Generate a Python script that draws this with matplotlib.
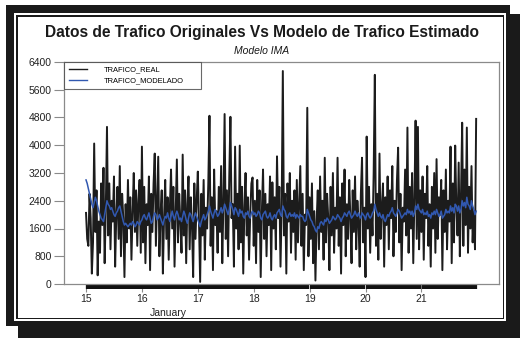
import numpy as np
import matplotlib
matplotlib.use("Agg")
from matplotlib import pyplot as plt
from matplotlib.patches import Rectangle
from matplotlib.ticker import FixedLocator

plt.rcParams['font.family'] = ['Liberation Sans', 'DejaVu Sans']

title = "Datos de Trafico Originales Vs Modelo de Trafico Estimado"
subtitle = "Modelo IMA"
day_labels = ["15", "16", "17", "18", "19", "20", "21"]
first_day = 15
per_day = 48  # half-hourly readings

# Jan 15 00:00 .. Jan 21 23:30
trafico_real = [
    # 15
    2050, 1300, 1100, 2600, 1900, 300, 1200, 4050, 1500, 2700, 250, 1800,
    900, 2900, 1700, 3350, 600, 2200, 4530, 1400, 2900, 1000, 2400, 1800,
    3100, 500, 2000, 2800, 1300, 3400, 800, 2600, 1900, 200, 2300, 1200,
    3000, 1600, 2500, 700, 2100, 3200, 1500, 2700, 1100, 2400, 3000, 900,
    # 16
    3960, 1200, 2800, 600, 2300, 1700, 3100, 400, 2600, 1500, 2900, 3760,
    1100, 2400, 3670, 800, 2000, 2700, 300, 1900, 3000, 1300, 2500, 700,
    2200, 3300, 1600, 2800, 500, 2100, 3590, 1200, 2600, 1800, 900, 3730,
    1400, 2700, 600, 2300, 3100, 1000, 2500, 1700, 200, 2900, 1300, 2400,
    # 17
    3240, 1800, 60, 2600, 1400, 3000, 700, 2200, 1600, 2900, 4850, 1100,
    2500, 400, 3300, 1700, 2100, 900, 2800, 1500, 3400, 600, 2400, 4900,
    1300, 2700, 800, 3100, 4820, 1900, 2300, 500, 3960, 1600, 2600, 1000,
    3990, 1200, 2800, 300, 2200, 3200, 1400, 2500, 700, 2000, 2900, 3070,
    # 18
    1100, 2400, 600, 3000, 1500, 2700, 200, 2100, 3300, 1300, 2600, 800,
    2300, 1700, 3100, 400, 2930, 1600, 2500, 1000, 3680, 1900, 2800, 500,
    2200, 6140, 1400, 2600, 300, 2900, 1800, 3200, 900, 2400, 1500, 2700,
    700, 3000, 1200, 2300, 3400, 1100, 2600, 400, 2000, 1700, 5080, 800,
    # 19
    2500, 1300, 2900, 600, 2100, 100, 1800, 2700, 1000, 3100, 1500, 2400,
    700, 3640, 1200, 2600, 1900, 400, 2800, 1400, 3200, 900, 2200, 1600,
    3640, 1100, 2500, 300, 2900, 1700, 3300, 800, 2300, 1300, 3000, 1900,
    600, 2700, 1500, 3100, 1000, 2400, 1800, 500, 2600, 3640, 1200, 2200,
    # 20
    200, 4250, 1600, 2800, 900, 2300, 1400, 3200, 6030, 1100, 2600, 700,
    3760, 1300, 2200, 2900, 500, 2500, 1700, 3100, 1000, 2700, 1900, 3400,
    800, 2400, 1500, 3000, 3930, 1200, 2600, 400, 2200, 1800, 3300, 1400,
    4510, 900, 2800, 1600, 3200, 600, 2500, 4710, 1300, 4530, 1000, 2700,
    # 21
    1500, 3100, 700, 2600, 1900, 3400, 1100, 2300, 500, 2800, 1600, 3200,
    900, 3600, 1300, 2500, 2000, 3000, 400, 2700, 1500, 3300, 1000, 2400,
    1800, 3960, 600, 2900, 1200, 3990, 2200, 1400, 3500, 800, 2600, 4650,
    1100, 3300, 1700, 4510, 900, 2800, 1600, 3400, 1200, 2100, 1000, 4760,
]
trafico_modelado = [
    # 15
    3000, 2900, 2750, 2600, 2450, 2300, 2200, 2350, 2500, 2400, 2250, 2100,
    2000, 1900, 1850, 1800, 2000, 2200, 2400, 2300, 2250, 2150, 2200, 2100,
    2000, 1950, 2050, 2100, 2200, 2250, 2100, 1950, 1800, 1700, 1750, 1700,
    1650, 1700, 1750, 1700, 1800, 1750, 1650, 1700, 1800, 1750, 1700, 1800,
    # 16
    1850, 1950, 2000, 1900, 1850, 1950, 2050, 1900, 1750, 1800, 1950, 2050,
    2000, 1850, 1900, 2000, 1900, 1800, 1700, 1850, 1950, 1900, 2050, 1900,
    1800, 1950, 2100, 1950, 1850, 2000, 2100, 2000, 1850, 1900, 1800, 1950,
    2100, 2000, 1850, 1750, 1900, 2050, 2000, 1900, 1800, 1950, 2050, 1950,
    # 17
    1850, 1750, 1650, 1800, 1900, 2000, 1850, 1900, 2000, 2100, 2250, 2100,
    2000, 1900, 2050, 2150, 2050, 1950, 2000, 2100, 2200, 2050, 2150, 2300,
    2200, 2100, 2000, 2150, 2350, 2250, 2150, 2000, 2200, 2150, 2050, 1950,
    2150, 2050, 2100, 1950, 1900, 2050, 2000, 2100, 1950, 1900, 2050, 2100,
    # 18
    2000, 2050, 1950, 2000, 2100, 2050, 1900, 1850, 2000, 2050, 2100, 1950,
    1900, 1950, 2050, 1900, 1850, 1950, 2000, 1900, 2050, 2100, 2150, 2000,
    1950, 2250, 2150, 2100, 1950, 1900, 2000, 2050, 1950, 2000, 1950, 2050,
    1900, 2000, 1950, 1900, 2000, 1950, 1950, 1850, 1800, 1850, 2150, 2050,
    # 19
    1950, 1850, 1800, 1700, 1650, 1550, 1500, 1650, 1600, 1750, 1800, 1750,
    1700, 1850, 1800, 1900, 1850, 1750, 1800, 1850, 1950, 1900, 1850, 1900,
    2000, 1950, 1900, 1800, 1900, 1950, 2050, 2000, 1950, 2050, 2100, 2000,
    1900, 1950, 2000, 2100, 2000, 1950, 2050, 1950, 1900, 2050, 2000, 1950,
    # 20
    1850, 2000, 2050, 1950, 1900, 1950, 2050, 2100, 2300, 2150, 2050, 1950,
    2050, 1950, 1900, 2000, 1850, 1800, 1900, 2000, 1950, 2050, 2100, 2200,
    2050, 2000, 1950, 2050, 2150, 2100, 2000, 1900, 1950, 2000, 2050, 2000,
    2150, 2050, 2100, 2000, 2100, 1950, 2050, 2250, 2150, 2300, 2150, 2100,
    # 21
    2050, 2150, 2000, 2050, 2000, 2100, 1950, 2000, 1900, 2050, 2000, 2100,
    2000, 2150, 2050, 1950, 2000, 2100, 1900, 1950, 2000, 2150, 2050, 2100,
    2050, 2250, 2100, 2200, 2050, 2300, 2250, 2100, 2250, 2050, 2150, 2400,
    2250, 2350, 2200, 2500, 2300, 2250, 2150, 2400, 2250, 2150, 2000, 2100,
]

W, H = 520, 338
fig = plt.figure(figsize=(W / 100, H / 100), dpi=100)


def px_rect(x0, y0, x1, y1, color):
    # rectangle in pixel coords (y from top)
    fig.patches.append(Rectangle((x0 / W, 1 - y1 / H), (x1 - x0) / W, (y1 - y0) / H,
                                 transform=fig.transFigure, facecolor=color,
                                 edgecolor="none", zorder=-10))


# framed border with drop shadow
px_rect(18, 14, 520, 338, "#1a1a1a")
px_rect(6, 5, 510, 326, "#1a1a1a")
px_rect(14, 13, 506, 321, "white")
px_rect(16, 15, 504, 319, "#1a1a1a")
px_rect(17.5, 16.5, 503, 317.5, "white")

ax = fig.add_axes([64 / W, 1 - 284 / H, (499 - 64) / W, (284 - 62) / H])
x = first_day + np.arange(len(trafico_real)) / per_day
ax.plot(x, trafico_real, color="#1c1c1c", lw=1.4, label="TRAFICO_REAL")
ax.plot(x, trafico_modelado, color="#3158b0", lw=1.1, label="TRAFICO_MODELADO")

ax.set_ylim(0, 6400)
ax.set_yticks(np.arange(0, 6401, 800))
ax.set_xlim(14.606, 22.388)
ax.set_xticks(np.arange(first_day, first_day + len(day_labels)))
ax.set_xticklabels(day_labels)
ax.xaxis.set_minor_locator(FixedLocator(x))

for s in ax.spines.values():
    s.set_color("#8a8a8a")
    s.set_linewidth(0.9)
ax.tick_params(axis="y", length=7, width=0.8, color="#8a8a8a", pad=2,
               labelsize=7.5, labelcolor="#222222")
ax.tick_params(axis="x", which="major", length=6, width=0.8, color="#8a8a8a",
               pad=1, labelsize=7.5, labelcolor="#222222")
ax.tick_params(axis="x", which="minor", length=3.8, width=1.6, color="#111111")

ax.annotate("January", xy=(16.48, 0), xycoords=("data", "axes fraction"),
            xytext=(0, -17), textcoords="offset points", ha="center", va="top",
            fontsize=7.5, color="#222222")

leg = ax.legend(loc="upper left", bbox_to_anchor=(0, 1, 137 / 435, 0),
                mode="expand", borderaxespad=0,
                fontsize=5.4, frameon=True, fancybox=False, handlelength=2.4,
                handletextpad=2.3, borderpad=0.6, labelspacing=0.5)
leg.get_frame().set_edgecolor("#444444")
leg.get_frame().set_linewidth(0.8)
leg.get_lines()[0].set_linewidth(1.0)
leg.get_lines()[1].set_linewidth(1.0)

fig.text(262 / W, 1 - 33 / H, title, ha="center", va="center",
         fontsize=11.2, fontweight="bold", color="#1a1a1a")
fig.text(262 / W, 1 - 51 / H, subtitle, ha="center", va="center",
         fontsize=7.5, style="italic", color="#1a1a1a")

fig.savefig("out.png", dpi=100)
